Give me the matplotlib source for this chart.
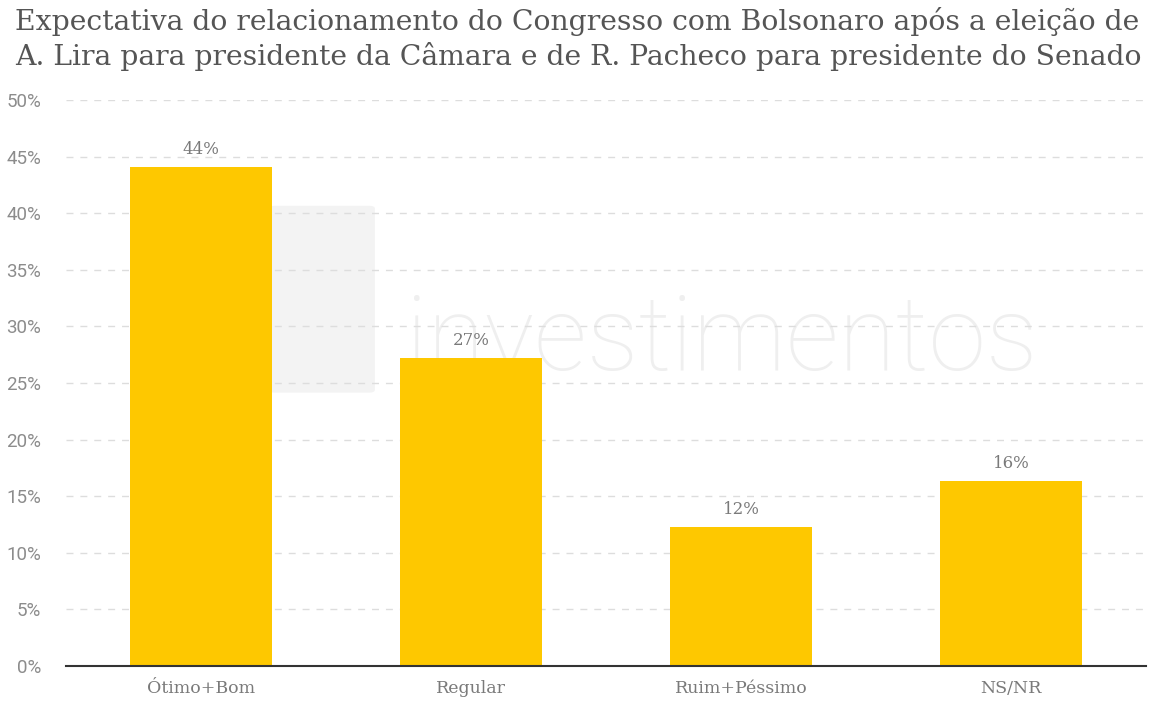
import matplotlib.pyplot as plt
import numpy as np
from matplotlib.patches import FancyBboxPatch

# data
categories = ["Ótimo+Bom", "Regular", "Ruim+Péssimo", "NS/NR"]
values = [44.1, 27.2, 12.3, 16.3]
y_ticks = [0, 5, 10, 15, 20, 25, 30, 35, 40, 45, 50]

title = ("Expectativa do relacionamento do Congresso com Bolsonaro após a eleição de\n"
         "A. Lira para presidente da Câmara e de R. Pacheco para presidente do Senado")

bar_color = "#fec800"
text_gray = "#7a7a7a"
serif = ["DejaVu Serif"]

fig = plt.figure(figsize=(11.69, 7.11), dpi=100)
ax = fig.add_axes([0.0565, 0.0633, 0.9238, 0.7961])

x = np.arange(len(categories))

# faint watermark behind the bars
ax.add_patch(FancyBboxPatch((0.193, 0.488), 0.088, 0.32, boxstyle="round,pad=0.005",
                            transform=ax.transAxes, facecolor="#f3f3f3",
                            edgecolor="none", zorder=0))
ax.text(0.607, 0.523, "investimentos", transform=ax.transAxes, ha="center", va="baseline",
        fontsize=75, family="Roboto", fontweight="light", color="#efefef", zorder=0)

ax.bar(x, values, width=0.526, color=bar_color, zorder=3)

for xi, v in zip(x, values):
    ax.text(xi, v + 0.8, f"{v:.0f}%", ha="center", va="bottom",
            fontsize=12, family=serif, color=text_gray, zorder=4)

ax.set_xlim(-0.5, len(categories) - 0.5)
ax.set_ylim(0, 50)
ax.set_yticks(y_ticks)
ax.set_yticklabels([f"{t}%" for t in y_ticks], family="Roboto",
                   fontsize=13.5, color="#8c8c8c")
ax.set_xticks(x)
ax.set_xticklabels(categories, family=serif, fontsize=12.5, color=text_gray)
ax.tick_params(axis="both", length=0)
ax.tick_params(axis="y", pad=18)
ax.tick_params(axis="x", pad=10)

ax.grid(axis="y", linestyle=(0, (5, 5)), color="#dddddd", linewidth=1, zorder=1)
for s in ["top", "right", "left"]:
    ax.spines[s].set_visible(False)
ax.spines["bottom"].set_color("#333333")
ax.spines["bottom"].set_linewidth(1.5)
ax.spines["bottom"].set_zorder(4)

fig.text(0.013, 0.99, title, ha="left", va="top", fontsize=20.3,
         family=serif, color="#555555", linespacing=1.25)

fig.savefig("out.png", dpi=100)
